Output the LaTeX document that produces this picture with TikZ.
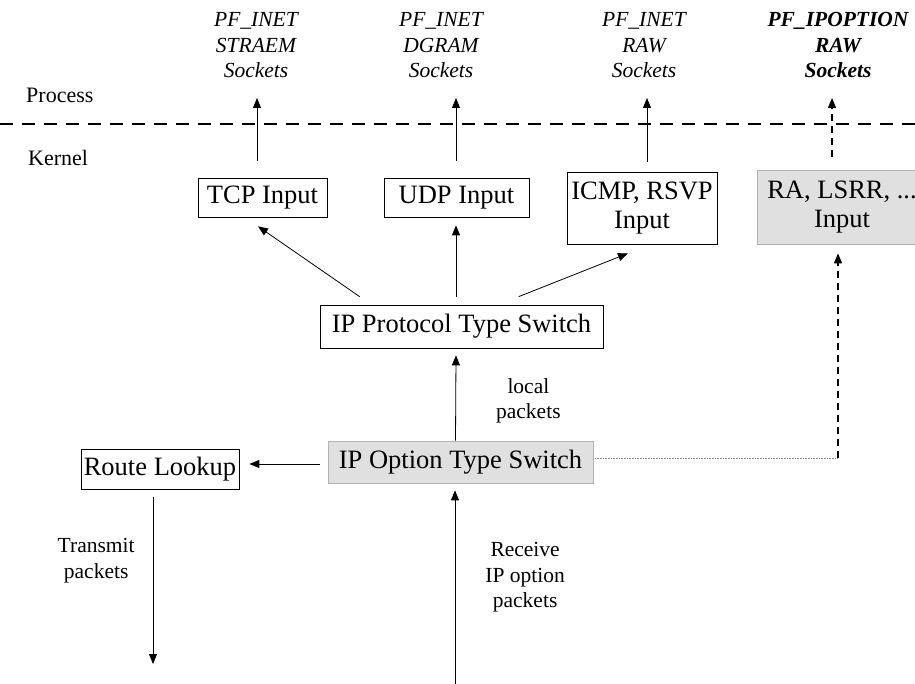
\documentclass[tikz,border=0pt]{standalone}
\usepackage{fontspec}
\setmainfont{Liberation Serif}
\usetikzlibrary{arrows.meta, positioning, shadows}
\newcommand{\boxfont}{\fontsize{26.5}{29}\selectfont}
\newcommand{\smallfont}{\fontsize{21.5}{25.5}\selectfont}
\tikzset{
    >=Triangle,
    % Boxes
    box/.style={rectangle, draw=black, line width=0.7pt, fill=white,
                align=center, inner sep=0pt, font=\boxfont},
    greybox/.style={box, draw=black!30, fill=black!12,
                    drop shadow={shadow xshift=1.2pt, shadow yshift=-1.2pt, fill=black!45, opacity=1}},
    % Sockets & Labels
    sock/.style={anchor=south, inner sep=0pt, align=center, font=\smallfont\itshape},
    lbl/.style={inner sep=0pt, align=center, font=\smallfont},
    layer/.style={anchor=base west, inner sep=0pt, font=\fontsize{22}{26}\selectfont},
    % Flow
    flow/.style={-{Triangle[length=10pt, width=8pt]}, line width=0.8pt},
    dflow/.style={flow, line width=1.5pt, dash pattern=on 7pt off 5pt},
    dots/.style={black!45, line width=0.6pt, dash pattern=on 0.8pt off 0.8pt},
    sep/.style={line width=2.6pt, dash pattern=on 13pt off 9pt}
}

\begin{document}
\begin{tikzpicture}[x=1pt, y=-1pt]
\useasboundingbox (0,0) rectangle (915,684);

\node[layer] (process) at (26,103) {Process};
\node[layer] (kernel) at (28,166) {Kernel};
\draw[sep] (0,124) -- (915,124);

\node[sock] (sockA) at (256,78) {PF\_INET\\STRAEM\\Sockets};
\node[sock] (sockB) at (441,78) {PF\_INET\\DGRAM\\Sockets};
\node[sock] (sockC) at (644,78) {PF\_INET\\RAW\\Sockets};
\node[sock, font=\smallfont\bfseries\itshape] (sockD) at (838,78) {PF\_IPOPTION\\RAW\\Sockets};

\node[box, minimum width=129pt, minimum height=39pt] (tcp) at (262.5,197.5) {TCP Input};
\node[box, minimum width=145pt, minimum height=39pt] (udp) at (456.5,197.5) {UDP Input};
\node[box, minimum width=150pt, minimum height=72pt] (icmp) at (642,208) {ICMP, RSVP\\Input};
\node[greybox, minimum width=170pt, minimum height=74pt] (ra) at (842,207) {RA, LSRR, ...\\Input};
\node[box, minimum width=283pt, minimum height=43pt] (proto) at (461.5,326.5) {IP Protocol Type Switch};
\node[greybox, minimum width=265pt, minimum height=42pt] (opt) at (460.5,462) {IP Option Type Switch};
\node[box, minimum width=158pt, minimum height=40pt] (route) at (160,469) {Route Lookup};

\coordinate (txEnd) at (153,664);
\coordinate (rxStart) at (455,684);
\coordinate (bend) at (838,458);

\draw[flow] ([shift={(-5.5pt,17pt)}]tcp.north) -- ([shift={(1pt,-20pt)}]sockA.south);
\draw[flow] ([shift={(-0.5pt,17pt)}]udp.north) -- ([shift={(15pt,-20pt)}]sockB.south);
\draw[flow] ([shift={(5pt,10pt)}]icmp.north) -- ([shift={(3pt,-20pt)}]sockC.south);
\draw[dflow] ([shift={(-10pt,13pt)}]ra.north) -- ([shift={(-6pt,-20pt)}]sockD.south);

\draw[flow] ([shift={(40pt,8pt)}]proto.north west) -- ([shift={(-4.5pt,-9pt)}]tcp.south);
\draw[flow] ([shift={(-5.5pt,8pt)}]proto.north) -- ([shift={(-0.5pt,-8pt)}]udp.south);
\draw[flow] ([shift={(199pt,8pt)}]proto.north west) -- ([shift={(-14pt,-9pt)}]icmp.south);

\draw[flow] ([xshift=-5pt]opt.north) -- node[lbl, right=40pt, yshift=-3pt] {local\\packets} ([shift={(-5.5pt,-7pt)}]proto.south);
\draw[flow] ([shift={(-8pt,-2pt)}]opt.west) -- ([shift={(10pt,5pt)}]route.east);
\draw[flow] ([shift={(-7pt,-8pt)}]route.south) -- node[lbl, pos=0.38, left=18pt] {Transmit\\packets} (txEnd);
\draw[flow] (rxStart) -- node[lbl, pos=0.55, right=30pt] {Receive\\IP option\\packets} ([shift={(-5.5pt,-7pt)}]opt.south);

\draw[dots] ([yshift=4pt]opt.east) -- (bend);
\draw[dflow] (bend) -- ([shift={(-4pt,-9pt)}]ra.south);

\end{tikzpicture}
\end{document}
